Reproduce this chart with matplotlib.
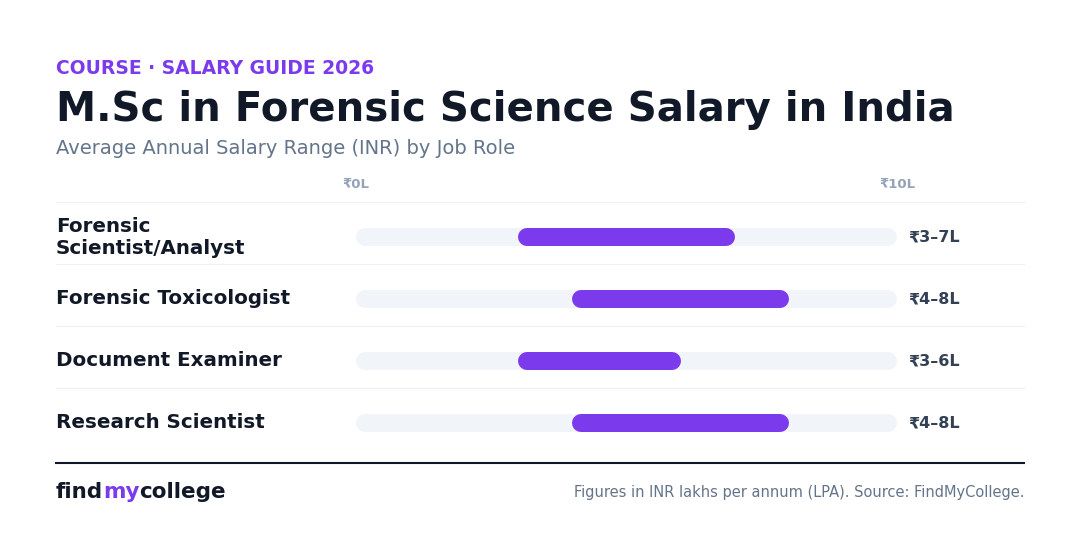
import matplotlib.pyplot as plt

roles = ["Forensic\nScientist/Analyst", "Forensic Toxicologist", "Document Examiner", "Research Scientist"]
low = [3, 4, 3, 4]
high = [7, 8, 6, 8]
labels = ["₹3–7L", "₹4–8L", "₹3–6L", "₹4–8L"]
row_y = [237, 299, 361, 423]  # row centres in pixels from the top

W, H = 1080, 536
PURPLE = "#7c3aed"
DARK = "#111827"
GREY = "#64748b"

plt.rcParams["font.family"] = ["DejaVu Sans"]
fig = plt.figure(figsize=(W / 100, H / 100), dpi=100)
fig.patch.set_facecolor("white")


def px(x, y):
    return x / W, 1 - y / H


fig.text(*px(56, 68), "COURSE · SALARY GUIDE 2026", color=PURPLE, fontsize=13.5, fontweight="bold", va="center")
fig.text(*px(56, 110), "M.Sc in Forensic Science Salary in India", color=DARK, fontsize=29, fontweight="bold", va="center")
fig.text(*px(56, 149), "Average Annual Salary Range (INR) by Job Role", color=GREY, fontsize=14, va="center")

# bar axes: x in lakhs, y in pixels
left, right = 356, 897
ax = fig.add_axes([left / W, 0, (right - left) / W, 1])
ax.set_xlim(0, 10)
ax.set_ylim(H, 0)
ax.axis("off")

cap = 9 * 10 / (right - left)  # round cap extends half the line width
lw = 18 * 0.72
for i, y in enumerate(row_y):
    ax.plot([cap, 10 - cap], [y, y], color="#f1f5f9", lw=lw, solid_capstyle="round")
    ax.plot([low[i] + cap, high[i] - cap], [y, y], color=PURPLE, lw=lw, solid_capstyle="round")
    fig.text(*px(56, y), roles[i], color=DARK, fontsize=14.3, fontweight="bold", va="center", linespacing=1.2)
    fig.text(*px(908, y), labels[i], color="#334155", fontsize=11.5, fontweight="bold", va="center")

ax.text(0, 185, "₹0L", color="#94a3b8", fontsize=9.5, fontweight="bold", ha="center", va="center")
ax.text(10, 185, "₹10L", color="#94a3b8", fontsize=9.5, fontweight="bold", ha="center", va="center")

# separators
for y in [202, 264, 326, 388]:
    fig.add_artist(plt.Line2D([56 / W, 1024 / W], [1 - y / H] * 2, color="#eef0f3", lw=0.8))
fig.add_artist(plt.Line2D([56 / W, 1024 / W], [1 - 463 / H] * 2, color=DARK, lw=1.5))

fig.text(*px(56, 492), "find", color=DARK, fontsize=15.5, fontweight="bold", va="center")
fig.text(*px(103, 492), "my", color=PURPLE, fontsize=15.5, fontweight="bold", va="center")
fig.text(*px(139, 492), "college", color=DARK, fontsize=15.5, fontweight="bold", va="center")
fig.text(*px(1024, 492), "Figures in INR lakhs per annum (LPA). Source: FindMyCollege.", color=GREY, fontsize=10.5, ha="right", va="center")

fig.savefig("out.png", dpi=100)
